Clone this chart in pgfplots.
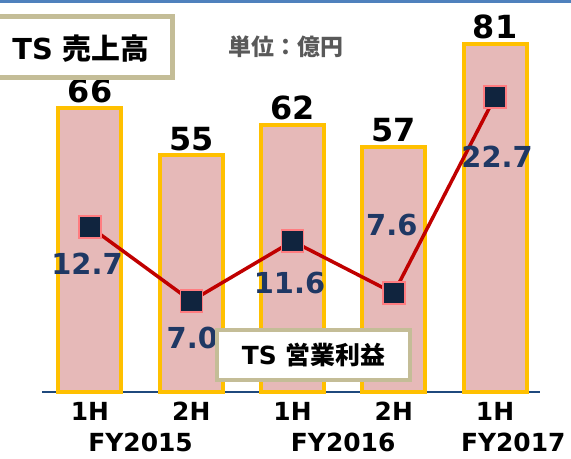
\documentclass[border=0pt]{standalone}
\usepackage{fontspec}
\setmainfont{DejaVu Sans}
\newfontfamily\cjk{Noto Sans CJK JP}
\usepackage{pgfplots}
\pgfplotsset{compat=1.18}
\definecolor{barfill}{HTML}{E6B9B8}
\definecolor{barline}{HTML}{FFC000}
\definecolor{linered}{HTML}{C00000}
\definecolor{mkfill}{HTML}{10243E}
\definecolor{mkedge}{HTML}{FF7C80}
\definecolor{lblnavy}{HTML}{1F3864}
\definecolor{boxline}{HTML}{C4BD97}
\definecolor{topblue}{HTML}{4F81BD}
\definecolor{axnavy}{HTML}{1F497D}
\definecolor{unitgray}{HTML}{595959}

\begin{document}
\begin{tikzpicture}
% sales (bars)
\begin{axis}[
  at={(42bp,67bp)}, anchor=south west,
  scale only axis, width=498bp, height=392bp,
  xmin=-0.474, xmax=4.444, ymin=0, ymax=91.16,
  axis x line=bottom, axis y line=none,
  x axis line style={-, draw=axnavy, line width=2bp},
  xtick={0,1,2,3,4}, xticklabels={1H,2H,1H,2H,1H},
  major tick length=0pt, ytick=\empty,
  xticklabel style={font=\fontsize{25}{25}\selectfont\bfseries, text=black, inner sep=0pt, yshift=-10bp},
  clip=false,
  ybar, bar width=63bp,
  nodes near coords={\fontsize{32}{32}\selectfont\bfseries\pgfmathprintnumber[assume math mode=true]{\pgfplotspointmeta}},
  every node near coord/.append style={text=black, anchor=south, inner sep=0pt, yshift=3bp},
]
\addplot[fill=barfill, draw=barline, line width=4bp]
  coordinates {(0,66)(1,55)(2,62)(3,57)(4,81)};
\node[font=\fontsize{25}{25}\selectfont\bfseries, yshift=-50bp] at (axis cs:0.5,0) {FY2015};
\node[font=\fontsize{25}{25}\selectfont\bfseries, yshift=-50bp] at (axis cs:2.5,0) {FY2016};
\node[font=\fontsize{25}{25}\selectfont\bfseries, yshift=-50bp] at (axis cs:4.18,0) {FY2017};
\end{axis}
% operating profit (line)
\begin{axis}[
  at={(42bp,67bp)}, anchor=south west,
  scale only axis, width=498bp, height=392bp,
  xmin=-0.474, xmax=4.444, ymin=0, ymax=30.15,
  hide axis, clip=false,
]
\addplot[linered, line width=3.5bp, mark=square*, mark size=11bp,
  mark options={fill=mkfill, draw=mkedge, line width=1.5bp}]
  coordinates {(0,12.7)(1,7.0)(2,11.6)(3,7.6)(4,22.7)};
\tikzset{lbl/.style={font=\fontsize{29}{29}\selectfont\bfseries, text=lblnavy, inner sep=0pt}}
\node[lbl, xshift=-3bp, yshift=-37bp] at (axis cs:0,12.7) {12.7};
\node[lbl, xshift=1bp, yshift=-37bp] at (axis cs:1,7.0) {7.0};
\node[lbl, xshift=-3bp, yshift=-42bp] at (axis cs:2,11.6) {11.6};
\node[lbl, xshift=-2bp, yshift=68bp] at (axis cs:3,7.6) {7.6};
\node[lbl, xshift=2bp, yshift=-60bp] at (axis cs:4,22.7) {22.7};
\end{axis}
% boxes and texts
\filldraw[fill=white, draw=boxline, line width=4bp] (217bp,129bp) rectangle (410bp,79bp);
\node[font=\fontsize{25}{25}\selectfont\bfseries] at (313.5bp,104bp) {TS~{\cjk 営業利益}};
\filldraw[fill=white, draw=boxline, line width=5bp] (-5bp,442.5bp) rectangle (172.5bp,381.5bp);
\node[font=\fontsize{29}{29}\selectfont\bfseries] at (81bp,410.5bp) {TS {\cjk 売上高}};
\node[font=\fontsize{23}{23}\selectfont\bfseries, text=unitgray] at (286bp,412bp) {\cjk 単位：億円};
\fill[topblue] (0,456bp) rectangle (571bp,459bp);
\pgfresetboundingbox
\useasboundingbox (0,0) rectangle (571bp,459bp);
\end{tikzpicture}
\end{document}
